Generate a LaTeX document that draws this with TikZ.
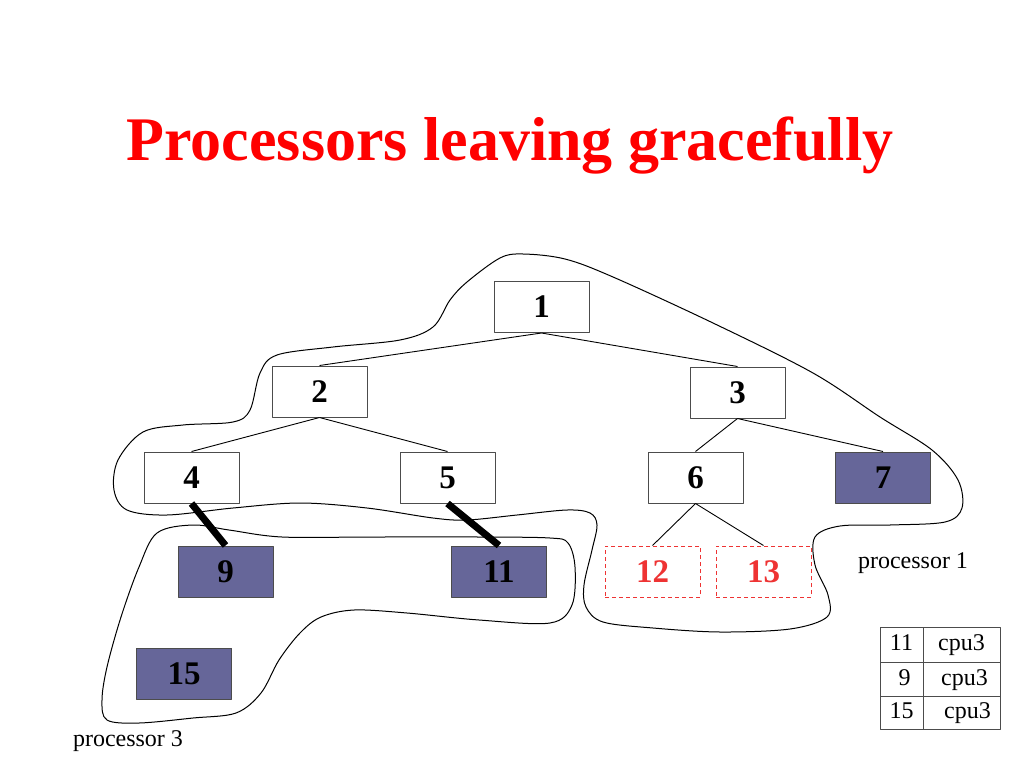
\documentclass[tikz,border=0pt]{standalone}
\usepackage{fontspec}
\setmainfont{Liberation Serif}
\definecolor{ink}{HTML}{000000}
\definecolor{leaf}{HTML}{666699}
\definecolor{headred}{HTML}{FF0000}
\definecolor{gone}{HTML}{EE3333}
\usetikzlibrary{
  positioning,
  calc
}
\tikzset{
  every picture/.style={line join=round},
  tnode/.style={
    draw=ink!70,
    line width=1pt,
    minimum width=95pt,
    minimum height=51pt,
    inner sep=0pt,
    font=\fontsize{33}{33}\selectfont\bfseries
  },
  leafnode/.style={tnode, fill=leaf},
  leaving/.style={tnode, draw=gone, dash pattern=on 4pt off 3pt, text=gone},
  link/.style={draw=ink, line width=0.9pt},
  moved/.style={draw=ink, line width=7pt},
  blob/.style={draw=ink, line width=1pt},
  annot/.style={font=\fontsize{24}{24}\selectfont, text=ink},
  cell/.style={draw=ink!70, line width=1pt, inner sep=0pt, text height=17pt, text depth=5pt, annot}
}
\begin{document}
\begin{tikzpicture}[x=1pt, y=-1pt]
  \path[fill=white] (0,0) rectangle (1024,768);

  \node[font=\fontsize{62}{62}\selectfont\bfseries, text=headred, anchor=base] (head) at (510,160) {Processors leaving gracefully};

  % processor regions
  \draw[blob] plot[smooth cycle, tension=0.55] coordinates {
    (523,254) (565,259) (613,277) (713,323) (813,373) (880,417) (932,450)
    (958,480) (962,508) (945,522) (890,525) (840,526) (815,537) (815,565)
    (828,595) (827,617) (790,629) (720,632) (653,628) (603,622) (586,607)
    (584,585) (592,550) (597,525) (590,513) (567,510) (517,515) (467,520)
    (433,518) (367,508) (300,503) (233,508) (167,515) (127,510) (114,490)
    (118,460) (143,432) (183,425) (233,422) (250,410) (260,373) (277,355)
    (333,347) (400,340) (433,327) (450,300) (467,282) (500,258)};
  \draw[blob] plot[smooth cycle, tension=0.55] coordinates {
    (193,525) (229,530) (282,537) (371,537) (479,537) (550,538) (568,543)
    (575,567) (572,605) (550,623) (479,620) (407,613) (354,610) (321,617)
    (300,633) (279,660) (261,693) (236,713) (193,718) (139,723) (107,720)
    (102,700) (107,667) (121,617) (139,567) (157,533)};

  % tree
  \node[tnode] (n1) at (541.5,307) {1};
  \node[tnode] (n2) at (319.5,391.5) {2};
  \node[tnode] (n3) at (737.5,392.5) {3};
  \node[tnode] (n4) at (191.5,477.5) {4};
  \node[tnode] (n5) at (447.5,477.5) {5};
  \node[tnode] (n6) at (695.5,477.5) {6};
  \node[leafnode] (n7) at (883,477.5) {7};
  \node[leafnode] (n9) at (225.5,571.5) {9};
  \node[leafnode] (n11) at (499,571.5) {11};
  \node[leaving] (n12) at (652.5,571.5) {12};
  \node[leaving] (n13) at (763.5,571.5) {13};
  \node[leafnode] (n15) at (184,673.5) {15};

  \foreach \a/\b in {n1/n2, n1/n3, n2/n4, n2/n5, n3/n6, n3/n7, n6/n12, n6/n13}
    \draw[link] (\a.south) -- (\b.north);
  \draw[moved] (n4.south) -- (n9.north);
  \draw[moved] (n5.south) -- (n11.north);

  \node[annot, anchor=base] (p1) at (913,568) {processor 1};
  \node[annot, anchor=base] (p3) at (128,746) {processor 3};

  % lookup table
  \node[cell, minimum width=43pt, minimum height=35pt] (k1) at (901.5,644.5) {11};
  \node[cell, minimum width=77pt, minimum height=35pt] (v1) at (961.5,644.5) {cpu3};
  \node[cell, minimum width=43pt, minimum height=34pt] (k2) at (901.5,679) {\hspace{6pt}9};
  \node[cell, minimum width=77pt, minimum height=34pt] (v2) at (961.5,679) {\hspace{6pt}cpu3};
  \node[cell, minimum width=43pt, minimum height=33pt] (k3) at (901.5,712.5) {15};
  \node[cell, minimum width=77pt, minimum height=33pt] (v3) at (961.5,712.5) {\hspace{12pt}cpu3};
\end{tikzpicture}
\end{document}
